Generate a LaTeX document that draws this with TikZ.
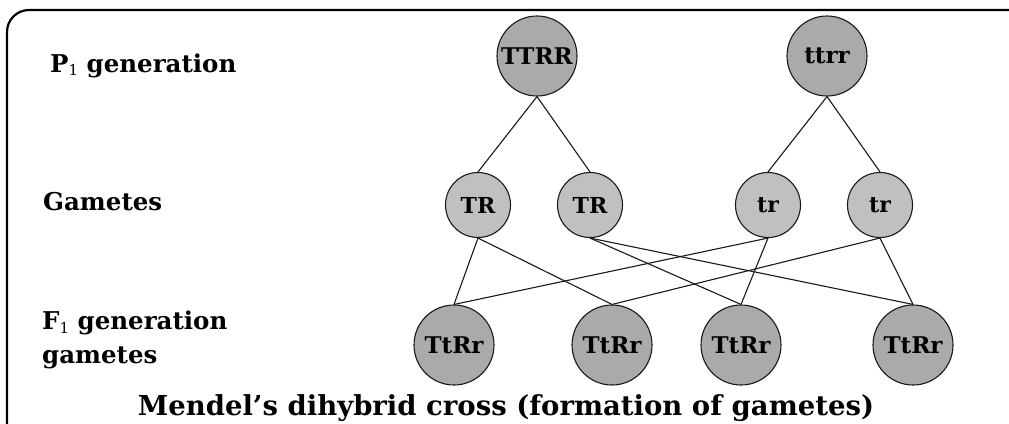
\documentclass[tikz,border=0pt]{standalone}
\usepackage{fontspec}
\setmainfont{DejaVu Serif}
\definecolor{gdark}{RGB}{170,170,170}
\definecolor{glight}{RGB}{192,192,192}
\begin{document}
\begin{tikzpicture}[x=1pt,y=-1pt,
  parent/.style={circle, draw=black!90, line width=1.1pt, fill=gdark, minimum size=80pt, inner sep=0pt, font=\bfseries\fontsize{23}{26}\selectfont},
  gamete/.style={circle, draw=black!90, line width=1.1pt, fill=glight, minimum size=65pt, inner sep=0pt, font=\bfseries\fontsize{22}{26}\selectfont},
  child/.style={circle, draw=black!90, line width=1.1pt, fill=gdark, minimum size=80pt, inner sep=0pt, font=\bfseries\fontsize{23}{26}\selectfont},
  lab/.style={font=\bfseries\fontsize{24.5}{34}\selectfont, align=left, inner sep=0pt},
  link/.style={line width=1.1pt, draw=black!90}]
\useasboundingbox (0,0) rectangle (1009,423);
\begin{scope}
  \clip (0,0) rectangle (1009,423);
  \draw[line width=2.2pt, rounded corners=22pt] (7,10) rectangle (1030,445);
\end{scope}
% labels
\node[lab, anchor=base west] (lp) at (50,72) {P\raisebox{-0.3ex}{\fontsize{15}{15}\selectfont\mdseries 1} generation};
\node[lab, anchor=base west] (lg) at (43,210) {Gametes};
\node[lab, anchor=west] (lf) at (42,340) {F\raisebox{-0.3ex}{\fontsize{15}{15}\selectfont\mdseries 1} generation\\gametes};
% parents
\node[parent] (P1) at (537,56) {TTRR};
\node[parent] (P2) at (827,56) {ttrr};
% gametes
\node[gamete] (G1) at (478,205) {TR};
\node[gamete] (G2) at (590,205) {TR};
\node[gamete] (G3) at (768,205) {tr};
\node[gamete] (G4) at (880,205) {tr};
% F1
\node[child] (F1) at (454,345) {TtRr};
\node[child] (F2) at (612,345) {TtRr};
\node[child] (F3) at (741,345) {TtRr};
\node[child] (F4) at (913,345) {TtRr};
% links
\draw[link] (P1.south) -- (G1.north);
\draw[link] (P1.south) -- (G2.north);
\draw[link] (P2.south) -- (G3.north);
\draw[link] (P2.south) -- (G4.north);
\draw[link] (G1.south) -- (F1.north);
\draw[link] (G1.south) -- (F2.north);
\draw[link] (G2.south) -- (F3.north);
\draw[link] (G2.south) -- (F4.north);
\draw[link] (G3.south) -- (F1.north);
\draw[link] (G3.south) -- (F3.north);
\draw[link] (G4.south) -- (F2.north);
\draw[link] (G4.south) -- (F4.north);
% title
\node[font=\bfseries\fontsize{27.5}{30}\selectfont, anchor=base, inner sep=0pt] (title) at (506,415) {Mendel’s dihybrid cross (formation of gametes)};
\end{tikzpicture}
\end{document}
